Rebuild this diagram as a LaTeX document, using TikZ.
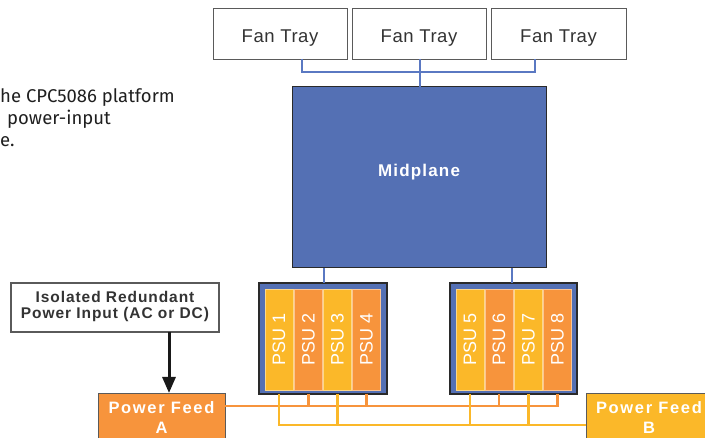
\documentclass[tikz,border=0pt]{standalone}
\usepackage{fontspec}
\setmainfont{Liberation Sans}
\newfontfamily\notefont{Fira Sans}
\usetikzlibrary{arrows.meta}

\definecolor{midblue}{HTML}{5470B4}
\definecolor{linkblue}{HTML}{5A78C2}
\definecolor{psuyellow}{HTML}{FBB829}
\definecolor{psuorange}{HTML}{F7943C}
\definecolor{framegray}{HTML}{5A5A5A}
\definecolor{textgray}{HTML}{333333}
\definecolor{darkframe}{HTML}{2A2A2A}

\tikzset{
  box/.style={rectangle, inner sep=0pt, outer sep=0pt},
  fanbox/.style={box, draw=framegray, line width=0.9pt, fill=white,
    minimum width=134pt, minimum height=51pt},
  fanlabel/.style={anchor=base, inner sep=0pt, text=textgray,
    font=\fontsize{18.5}{20}\selectfont\addfontfeature{LetterSpace=3}},
  midbox/.style={box, draw=darkframe, line width=1pt, fill=midblue,
    minimum width=254pt, minimum height=181pt},
  midlabel/.style={anchor=base, inner sep=0pt, text=white,
    font=\bfseries\fontsize{17}{19}\selectfont\addfontfeature{LetterSpace=7}},
  psugroup/.style={box, draw=darkframe, line width=1.3pt, fill=midblue,
    minimum height=111pt},
  psuslot/.style={box, rotate=90, minimum width=101pt, minimum height=28pt,
    line width=0.5pt, text=white, font=\fontsize{18}{20}\selectfont},
  psuY/.style={psuslot, fill=psuyellow, draw=psuyellow!55!white},
  psuO/.style={psuslot, fill=psuorange, draw=psuorange!55!white},
  feedbox/.style={box, draw=framegray, line width=0.9pt,
    minimum width=127pt, minimum height=50pt},
  % multi-line labels: the base anchor sits on the last line
  feedlabel/.style={anchor=base, inner sep=0pt, align=center, text=white,
    font=\bfseries\fontsize{16.5}{20}\selectfont\addfontfeature{LetterSpace=10}},
  isobox/.style={box, draw=framegray, line width=1.1pt, fill=white,
    minimum width=208pt, minimum height=49pt},
  isolabel/.style={anchor=base, inner sep=0pt, align=center, text=textgray,
    font=\bfseries\fontsize{15.5}{16}\selectfont\addfontfeature{LetterSpace=6}},
  notelabel/.style={anchor=base west, inner sep=0pt, align=left, text=black!88,
    font=\notefont\fontsize{18.5}{22}\selectfont},
  bluelink/.style={draw=linkblue, line width=2pt},
  orangebus/.style={draw=psuorange, line width=2.2pt},
  yellowbus/.style={draw=psuyellow, line width=2.2pt},
  feedarrow/.style={draw=black!90, line width=3pt,
    -{Triangle[length=16pt,width=13pt]}}
}

\begin{document}
\begin{tikzpicture}[x=1pt,y=-1pt]
\useasboundingbox (0,0) rectangle (705,438);

% explanatory text running off the left edge
\node[notelabel] (note) at (0,147) {he CPC5086 platform\\\hspace*{7pt}power-input\\e.};

% fan trays
\node[fanbox] (fan1) at (280,33.5) {};
\node[fanbox] (fan2) at (419,33.5) {};
\node[fanbox, minimum width=135pt] (fan3) at (558.5,33.5) {};
\node[fanlabel] (fan1label) at (280,42.7) {Fan Tray};
\node[fanlabel] (fan2label) at (419,42.7) {Fan Tray};
\node[fanlabel] (fan3label) at (558.5,42.7) {Fan Tray};

% midplane
\node[midbox] (mid) at (419,177.5) {};
\node[midlabel] (midlabel) at (419,177) {Midplane};

% power supply groups
\node[psugroup, minimum width=128pt] (grp1) at (323,338.5) {};
\node[psugroup, minimum width=127pt] (grp2) at (513.5,338.5) {};

\node[psuY] (psu1) at (279,339.5) {PSU 1};
\node[psuO] (psu2) at (308.5,339.5) {PSU 2};
\node[psuY] (psu3) at (337.5,339.5) {PSU 3};
\node[psuO] (psu4) at (366.5,339.5) {PSU 4};
\node[psuY] (psu5) at (470,339.5) {PSU 5};
\node[psuO] (psu6) at (499,339.5) {PSU 6};
\node[psuY] (psu7) at (528.5,339.5) {PSU 7};
\node[psuO] (psu8) at (557.5,339.5) {PSU 8};

% power input and feeds
\node[isobox] (iso) at (115,307.5) {};
\node[isolabel] (isolabel) at (115,318.5) {Isolated Redundant\\Power Input (AC or DC)};

\node[feedbox, fill=psuorange] (feedA) at (161.5,418) {};
\node[feedlabel] (feedAlabel) at (161.5,434) {Power Feed\\A};
\node[feedbox, fill=psuyellow, minimum width=126pt] (feedB) at (649,418) {};
\node[feedlabel] (feedBlabel) at (649,434) {Power Feed\\B};

% fan tray links
\draw[bluelink] ([xshift=22]fan1.south) -- ++(0,13) -| ([xshift=-23.5]fan3.south);
\draw[bluelink] ([xshift=1]fan2.south) -- ([xshift=1]mid.north);

% midplane to supply groups
\draw[bluelink] ([xshift=1]grp1.north) -- ([xshift=1]grp1.north |- mid.south);
\draw[bluelink] ([xshift=-1.5]grp2.north) -- ([xshift=-1.5]grp2.north |- mid.south);

% feed A bus (even supplies)
\coordinate (busA) at (0,406);
\coordinate (busB) at (0,425);
\draw[orangebus] (feedA.east |- busA) -| (psu8.center |- grp2.south);
\foreach \p/\g in {psu2/grp1, psu4/grp1, psu6/grp2}
  \draw[orangebus] (\p.center |- \g.south) -- (\p.center |- busA);

% feed B bus (odd supplies)
\draw[yellowbus] (psu1.center |- grp1.south) |- (feedB.west |- busB);
\foreach \p/\g in {psu3/grp1, psu5/grp2, psu7/grp2}
  \draw[yellowbus] (\p.center |- \g.south) -- (\p.center |- busB);

% input arrow
\coordinate (arrowx) at (169,0);
\draw[feedarrow] (iso.south -| arrowx) -- (feedA.north -| arrowx);
\end{tikzpicture}
\end{document}
